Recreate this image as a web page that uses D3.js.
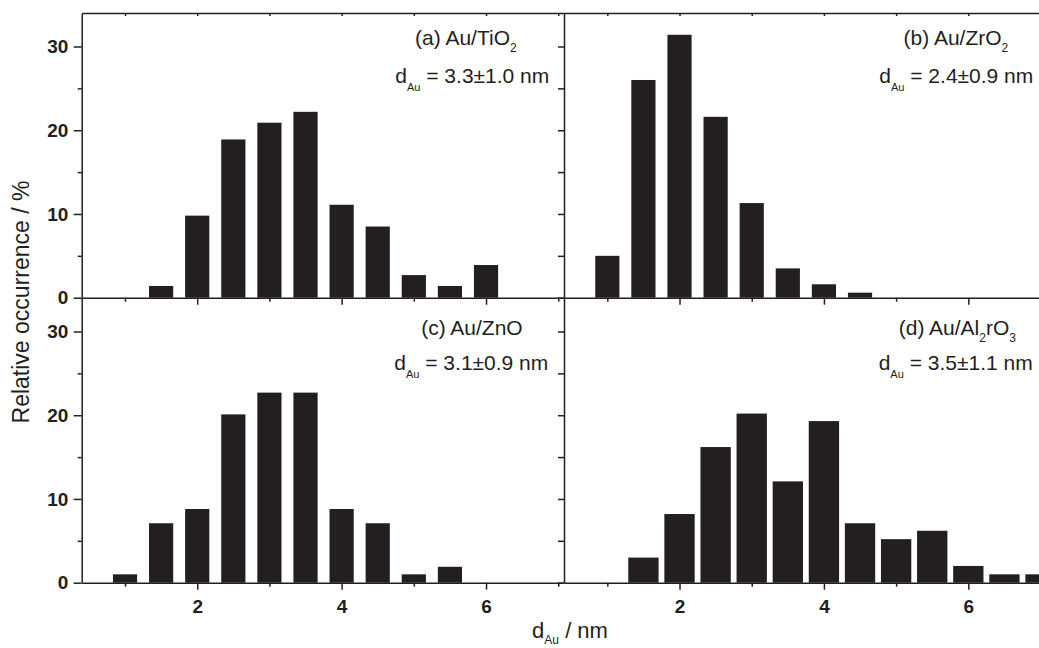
<!DOCTYPE html>
<html>
<head>
<meta charset="utf-8">
<script src="https://cdn.jsdelivr.net/npm/d3@7"></script>
<style>
    body { margin: 0; background: #fff; }
    svg { display: block; font-family: 'Liberation Sans', Arial, sans-serif; }
    .axis path, .axis line { stroke: #231f20; stroke-width: 1.5; }
    .axis text { font-weight: bold; font-size: 19px; fill: #231f20; font-family: 'Liberation Sans', Arial, sans-serif; }
</style>
</head>
<body>
<svg id="chart" width="1039" height="648"></svg>
<script>
// particle size bins (nm) and relative occurrence (%) per catalyst
var sizesA = [1.5, 2, 2.5, 3, 3.5, 4, 4.5, 5, 5.5, 6];
var occurrenceA = [1.4, 9.8, 18.9, 20.9, 22.2, 11.1, 8.5, 2.7, 1.4, 3.9];

var sizesB = [1, 1.5, 2, 2.5, 3, 3.5, 4, 4.5];
var occurrenceB = [5.0, 26.0, 31.4, 21.6, 11.3, 3.5, 1.6, 0.6];

var sizesC = [1, 1.5, 2, 2.5, 3, 3.5, 4, 4.5, 5, 5.5];
var occurrenceC = [1.0, 7.1, 8.8, 20.1, 22.7, 22.7, 8.8, 7.1, 1.0, 1.9];

var sizesD = [1.5, 2, 2.5, 3, 3.5, 4, 4.5, 5, 5.5, 6, 6.5, 7];
var occurrenceD = [3.0, 8.2, 16.2, 20.2, 12.1, 19.3, 7.1, 5.2, 6.2, 2.0, 1.0, 1.0];

var yMajorTicks = [0, 10, 20, 30];
var yMinorTicks = [5, 15, 25];
var xMajorTicks = [2, 4, 6];
var xMinorTicks = [1, 3, 5, 7];

var panelNames = ['(a) Au/TiO', '(b) Au/ZrO', '(c) Au/ZnO', '(d) Au/Al'];
var meanSizes = ['3.3\u00b11.0', '2.4\u00b10.9', '3.1\u00b10.9', '3.5\u00b11.1'];

(function (d3) {
    'use strict';

    var ink = '#231f20',
        svg = d3.select('#chart'),
        xDomain = [0.4, 7.08],
        yDomain = [0, 34],
        binWidth = 0.5,
        panels;

    panels = [
        {sizes: sizesA, values: occurrenceA, x0: 81.7, x1: 564, y0: 297.7, y1: 13,
         frac: 0.67, left: true, bottom: false, top: true,
         title: {x: 516.7, y: 45, sub: ['2']}, mean: {x: 549.3, y: 83.3}},
        {sizes: sizesB, values: occurrenceB, x0: 564, x1: 1046.3, y0: 297.7, y1: 13,
         frac: 0.67, left: false, bottom: false, top: true,
         title: {x: 1008.3, y: 45, sub: ['2']}, mean: {x: 1033.3, y: 83.3}},
        {sizes: sizesC, values: occurrenceC, x0: 81.7, x1: 564, y0: 582.7, y1: 298,
         frac: 0.67, left: true, bottom: true, top: false,
         title: {x: 522.7, y: 335, sub: []}, mean: {x: 548.3, y: 370}},
        {sizes: sizesD, values: occurrenceD, x0: 564, x1: 1046.3, y0: 582.7, y1: 298,
         frac: 0.84, left: false, bottom: true, top: false,
         title: {x: 1016, y: 335, sub: ['2', 'rO', '3']}, mean: {x: 1032.7, y: 370}}
    ];

    panels.forEach(function (p, i) {
        var x = d3.scaleLinear().domain(xDomain).range([p.x0, p.x1]),
            y = d3.scaleLinear().domain(yDomain).range([p.y0, p.y1]),
            half = binWidth * p.frac / 2,
            g = svg.append('g'),
            title,
            mean;

        // bars
        g.selectAll('rect')
            .data(p.sizes)
            .enter()
          .append('rect')
            .attr('x', function (d) { return x(d - half); })
            .attr('width', function (d) { return x(d + half) - x(d - half); })
            .attr('y', function (d, j) { return y(p.values[j]); })
            .attr('height', function (d, j) { return y(0) - y(p.values[j]); })
            .attr('fill', ink);

        // x axis (bottom of the panel)
        g.append('g')
            .attr('class', 'axis')
            .attr('transform', 'translate(0,' + p.y0 + ')')
            .call(d3.axisBottom(x).tickValues(xMajorTicks).tickSize(7)
                .tickSizeOuter(0).tickPadding(10)
                .tickFormat(p.bottom ? d3.format('d') : function () { return ''; }));
        g.append('g')
            .attr('class', 'axis')
            .attr('transform', 'translate(0,' + p.y0 + ')')
            .call(d3.axisBottom(x).tickValues(xMinorTicks).tickSize(4)
                .tickSizeOuter(0).tickFormat(''))
            .select('.domain').remove();

        // top frame with small inward ticks
        if (p.top) {
            g.append('g')
                .attr('class', 'axis')
                .attr('transform', 'translate(0,' + p.y1 + ')')
                .call(d3.axisBottom(x).tickValues(xMinorTicks.concat(xMajorTicks))
                    .tickSize(3).tickSizeOuter(0).tickFormat(''));
        }

        // y axis
        if (p.left) {
            g.append('g')
                .attr('class', 'axis')
                .attr('transform', 'translate(' + p.x0 + ',0)')
                .call(d3.axisLeft(y).tickValues(yMajorTicks).tickSize(8)
                    .tickSizeOuter(0).tickPadding(5.4));
            g.append('g')
                .attr('class', 'axis')
                .attr('transform', 'translate(' + p.x0 + ',0)')
                .call(d3.axisLeft(y).tickValues(yMinorTicks).tickSize(4)
                    .tickSizeOuter(0).tickFormat(''))
                .select('.domain').remove();
        } else {
            g.append('g')
                .attr('class', 'axis')
                .attr('transform', 'translate(' + p.x0 + ',0)')
                .call(d3.axisLeft(y).tickValues(yMajorTicks.concat(yMinorTicks))
                    .tickSize(6).tickSizeOuter(0).tickFormat(''));
        }

        // panel annotations
        title = g.append('text')
            .attr('x', p.title.x)
            .attr('y', p.title.y)
            .attr('text-anchor', 'end')
            .attr('font-size', 21)
            .attr('fill', ink);
        title.append('tspan').text(panelNames[i]);
        p.title.sub.forEach(function (s, k) {
            var isSub = k % 2 === 0;
            title.append('tspan')
                .attr('font-size', isSub ? 12 : 21)
                .attr('dy', isSub ? 7 : -7)
                .text(s);
        });

        mean = g.append('text')
            .attr('x', p.mean.x)
            .attr('y', p.mean.y)
            .attr('text-anchor', 'end')
            .attr('font-size', 21)
            .attr('fill', ink);
        mean.append('tspan').text('d');
        mean.append('tspan').attr('font-size', 11).attr('dy', 8).text('Au');
        mean.append('tspan').attr('dy', -8).text(' = ' + meanSizes[i] + ' nm');
    });

    // shared axis titles
    svg.append('text')
        .attr('transform', 'translate(29,302) rotate(-90)')
        .attr('text-anchor', 'middle')
        .attr('font-size', 23)
        .attr('fill', ink)
        .text('Relative occurrence / %');

    var xt = svg.append('text')
        .attr('x', 570)
        .attr('y', 638)
        .attr('text-anchor', 'middle')
        .attr('font-size', 22)
        .attr('fill', ink);
    xt.append('tspan').text('d');
    xt.append('tspan').attr('font-size', 12).attr('dy', 6).text('Au');
    xt.append('tspan').attr('dy', -6).text(' / nm');

}(window.d3));
</script>
</body>
</html>
